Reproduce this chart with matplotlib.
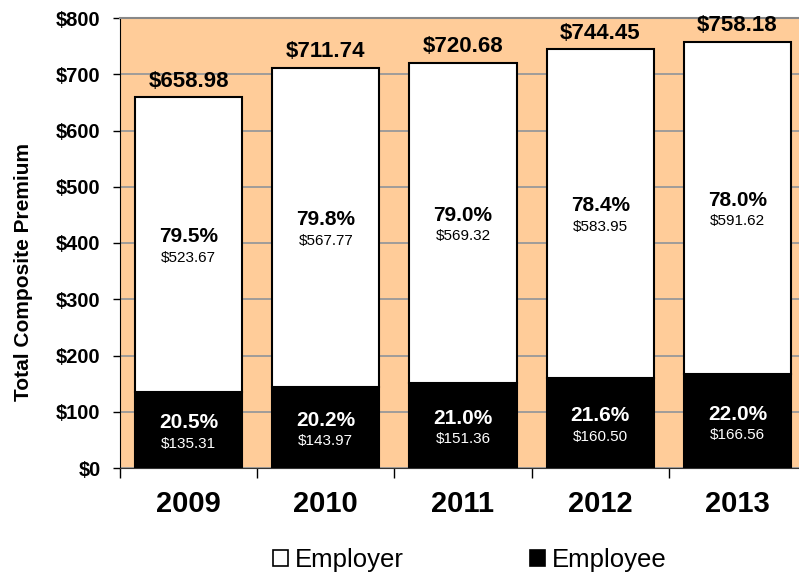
import matplotlib
matplotlib.use("Agg")
import matplotlib.pyplot as plt
from matplotlib.patches import Patch
import numpy as np

years = ["2009", "2010", "2011", "2012", "2013"]
employee = [135.31, 143.97, 151.36, 160.50, 166.56]
employer = [523.67, 567.77, 569.32, 583.95, 591.62]
totals = [658.98, 711.74, 720.68, 744.45, 758.18]
employee_pct = ["20.5%", "20.2%", "21.0%", "21.6%", "22.0%"]
employer_pct = ["79.5%", "79.8%", "79.0%", "78.4%", "78.0%"]
yticks = [0, 100, 200, 300, 400, 500, 600, 700, 800]

plt.rcParams['font.family'] = ['Liberation Sans', 'DejaVu Sans']

fig = plt.figure(figsize=(7.99, 5.75), dpi=100)
ax = fig.add_axes([120/799, 107/575, 686/799, 450/575])
ax.set_facecolor('#FFCC99')

x = np.arange(len(years))
w = 0.78
ax.bar(x, employee, w, color='black', edgecolor='black', linewidth=1.5, zorder=3)
ax.bar(x, employer, w, bottom=employee, color='white', edgecolor='black', linewidth=1.5, zorder=3)

for i in range(len(years)):
    mid_b = employee[i] / 2
    ax.annotate(employee_pct[i], (x[i], mid_b), xytext=(0, 5), textcoords='offset points',
                ha='center', va='center', color='white', fontsize=15, fontweight='bold', zorder=5)
    ax.annotate(f"${employee[i]:.2f}", (x[i], mid_b), xytext=(0, -10), textcoords='offset points',
                ha='center', va='center', color='white', fontsize=11, zorder=5)
    mid_t = employee[i] + employer[i] / 2
    ax.annotate(employer_pct[i], (x[i], mid_t), xytext=(0, 5.5), textcoords='offset points',
                ha='center', va='center', color='black', fontsize=15, fontweight='bold', zorder=5)
    ax.annotate(f"${employer[i]:.2f}", (x[i], mid_t), xytext=(0, -9.5), textcoords='offset points',
                ha='center', va='center', color='black', fontsize=11, zorder=5)
    ax.annotate(f"${totals[i]:.2f}", (x[i], totals[i]), xytext=(0, 11.5), textcoords='offset points',
                ha='center', va='center', color='black', fontsize=16, fontweight='bold', zorder=5)

ax.set_xlim(-0.5, 4.5)
ax.set_ylim(0, 800)
ax.set_yticks(yticks)
ax.set_yticklabels([f"${v}" for v in yticks], fontsize=14.5, fontweight='bold')
ax.yaxis.grid(True, color='#999999', linewidth=1.3, zorder=0)
ax.set_axisbelow(True)
ax.tick_params(axis='y', direction='out', length=5, width=1, pad=9)

ax.set_xticks(x)
ax.set_xticklabels(years, fontsize=21, fontweight='bold')
ax.set_xticks(np.arange(-0.5, 4.6, 1.0), minor=True)
ax.tick_params(axis='x', which='major', length=0, pad=16)
ax.tick_params(axis='x', which='minor', direction='out', length=7, width=1)

ax.spines['left'].set_color('black')
ax.spines['bottom'].set_color('#333333')
ax.spines['top'].set_color('#888888')
ax.spines['top'].set_linewidth(1.5)
ax.spines['right'].set_visible(False)

ax.set_ylabel("Total Composite Premium", fontsize=15, fontweight='bold')
ax.yaxis.set_label_coords(-87/686, 0.436)

handles = [Patch(facecolor='white', edgecolor='black', linewidth=1.2),
           Patch(facecolor='black', edgecolor='black', linewidth=1.2)]
fig.legend(handles, ["Employer", "Employee"], loc='center', bbox_to_anchor=(470/799, 1 - 560/575),
           ncol=2, frameon=False, fontsize=18.5, handlelength=0.6, handleheight=0.6,
           handletextpad=0.27, columnspacing=4.9)

fig.savefig("out.png", dpi=100)
